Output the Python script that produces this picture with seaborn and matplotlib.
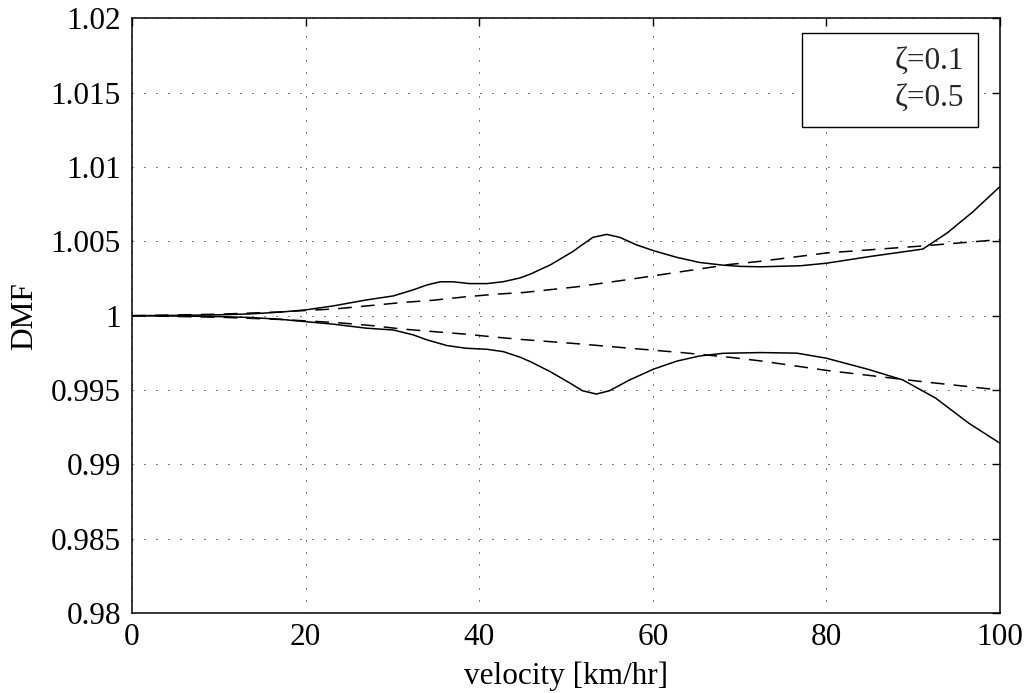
import matplotlib
matplotlib.use("Agg")
import matplotlib.pyplot as plt
import seaborn as sns

# ---- data ----
# zeta = 0.1 (solid), upper envelope
v_s_up = [0, 5, 10, 13.6, 17.05, 20, 23.2, 27.0, 30.1, 32.4, 34.0, 35.5, 37.0, 38.9, 40.9,
          42.8, 44.7, 45.9, 48.2, 50.8, 51.6, 53.1, 54.7, 56.2, 58.1, 60.1, 62.8, 65.4, 68.1,
          70.0, 72.4, 77.0, 80.0, 85.0, 91.1, 93.9, 96.9, 100]
d_s_up = [1.0, 1.00002, 1.00006, 1.00012, 1.00024, 1.00039, 1.00066, 1.00106, 1.00133,
          1.00174, 1.00207, 1.00228, 1.00228, 1.00216, 1.00216, 1.00229, 1.00254, 1.0028,
          1.00342, 1.00432, 1.00466, 1.00527, 1.00547, 1.00527, 1.00477, 1.00437, 1.00392,
          1.00358, 1.0034, 1.00332, 1.00329, 1.00336, 1.00353, 1.00398, 1.00448, 1.00556,
          1.007, 1.00869]
# zeta = 0.1 (solid), lower envelope
v_s_lo = [0, 5, 10, 13.6, 17.05, 20, 23.2, 27.0, 30.1, 32.4, 34.0, 36.3, 38.5, 40.9, 42.8,
          44.7, 45.9, 48.2, 50.5, 51.9, 53.5, 55.0, 57.3, 60.1, 62.8, 65.4, 68.1, 72.4, 76.6,
          80.0, 85.0, 88.8, 92.6, 96.4, 100]
d_s_lo = [1.0, 0.99998, 0.99994, 0.99988, 0.99976, 0.9996, 0.99943, 0.99916, 0.99904,
          0.99871, 0.99837, 0.99799, 0.99781, 0.99774, 0.99758, 0.99721, 0.99691, 0.99623,
          0.99545, 0.99495, 0.99473, 0.99495, 0.99567, 0.99641, 0.99695, 0.99729, 0.99747,
          0.99752, 0.99748, 0.99714, 0.99636, 0.99568, 0.99445, 0.99277, 0.99142]
# zeta = 0.5 (dashed), upper envelope
v_d_up = [0, 10, 17, 20, 23.5, 27.8, 31.0, 34.7, 38.4, 42.0, 45.1, 51.2, 57.4, 63.5, 68.9,
          72.4, 80.0, 90.8, 100]
d_d_up = [1.0, 1.0001, 1.00025, 1.00035, 1.00046, 1.0007, 1.00088, 1.00104, 1.00127,
          1.00145, 1.00156, 1.00194, 1.00245, 1.00298, 1.00345, 1.00366, 1.00422, 1.00468,
          1.00512]
# zeta = 0.5 (dashed), lower envelope
v_d_lo = [0, 10, 17, 20, 23.5, 27.7, 31.0, 34.7, 38.4, 42.0, 45.1, 51.2, 57.4, 63.5, 68.9,
          72.4, 80.0, 90.8, 100]
d_d_lo = [1.0, 0.9999, 0.99975, 0.99965, 0.99954, 0.99933, 0.99911, 0.99893, 0.99876,
          0.99855, 0.99839, 0.99812, 0.99781, 0.99751, 0.9972, 0.99696, 0.99632, 0.99558,
          0.995]

x_ticks = [0, 20, 40, 60, 80, 100]
y_ticks = [0.98, 0.985, 0.99, 0.995, 1.0, 1.005, 1.01, 1.015, 1.02]
y_tick_labels = ["0.98", "0.985", "0.99", "0.995", "1", "1.005", "1.01", "1.015", "1.02"]
labels = ["ζ=0.1", "ζ=0.5"]

# ---- plot ----
sns.set_theme(style="white")
plt.rcParams["font.family"] = ["Liberation Serif", "DejaVu Serif"]

fig = plt.figure(figsize=(10.28, 6.93), dpi=100)
ax = fig.add_axes([132 / 1028, 1 - 613 / 693, 868 / 1028, 594.6 / 693])

lw = 1.1
sns.lineplot(x=v_s_up, y=d_s_up, ax=ax, color="black", linewidth=lw, sort=False,
             estimator=None, label=labels[0])
sns.lineplot(x=v_s_lo, y=d_s_lo, ax=ax, color="black", linewidth=lw, sort=False,
             estimator=None)
sns.lineplot(x=v_d_up, y=d_d_up, ax=ax, color="black", linewidth=lw, sort=False,
             estimator=None, label=labels[1])
sns.lineplot(x=v_d_lo, y=d_d_lo, ax=ax, color="black", linewidth=lw, sort=False,
             estimator=None)
lines = ax.get_lines()
for ln in lines[2:4]:
    ln.set_dashes((9, 6))

ax.set_xlim(0, 100)
ax.set_ylim(0.98, 1.02)
ax.set_xticks(x_ticks)
ax.set_xticklabels([str(t) for t in x_ticks])
ax.set_yticks(y_ticks)
ax.set_yticklabels(y_tick_labels)

ax.grid(True, color="black", linewidth=0.72, linestyle=(0, (1, 11)))
for s in ax.spines.values():
    s.set_visible(True)
    s.set_color("black")
    s.set_linewidth(1.1)

fs = 22.5
ax.tick_params(axis="both", which="both", direction="in", length=6, width=1.0,
               top=True, right=True, labelsize=fs, colors="black", pad=8)
ax.tick_params(axis="x", pad=7)

ax.set_xlabel("velocity [km/hr]", fontsize=fs, labelpad=7, color="black")
ax.set_ylabel("DMF", fontsize=fs, labelpad=8, color="black")

leg = ax.legend(loc="upper right", bbox_to_anchor=(0.9747, 0.9758), borderaxespad=0,
                fontsize=fs, frameon=True, fancybox=False, shadow=False,
                edgecolor="black", facecolor="white", framealpha=1,
                handlelength=1.9, handletextpad=0.6, labelspacing=0.25,
                borderpad=0.45)
leg.get_frame().set_linewidth(1.0)
for ln in leg.get_lines():
    ln.set_visible(False)

fig.savefig("out.png", dpi=100)
